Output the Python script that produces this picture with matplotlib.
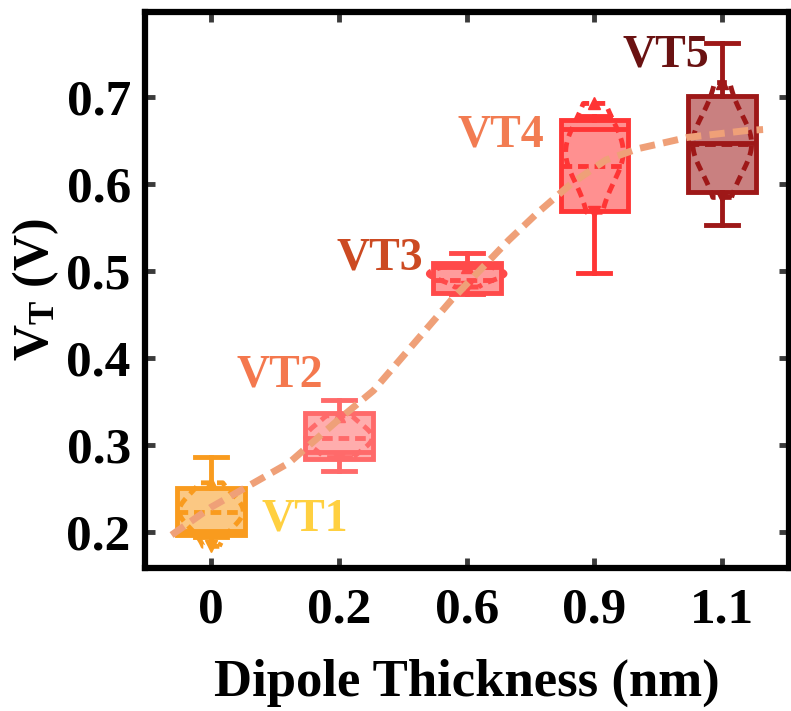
import numpy as np
import matplotlib
matplotlib.use("Agg")
import matplotlib.pyplot as plt
from matplotlib.colors import to_rgba

plt.rcParams['font.family'] = ['Liberation Serif', 'DejaVu Serif']
plt.rcParams['font.weight'] = 'bold'
plt.rcParams['mathtext.fontset'] = 'custom'
plt.rcParams['mathtext.rm'] = 'Liberation Serif:bold'
plt.rcParams['mathtext.bf'] = 'Liberation Serif:bold'
plt.rcParams['mathtext.it'] = 'Liberation Serif:bold'

# categories
thickness = ["0", "0.2", "0.6", "0.9", "1.1"]
names = ["VT1", "VT2", "VT3", "VT4", "VT5"]

# box statistics (V)
whislo = [0.195, 0.271, 0.474, 0.498, 0.553]
q1 = [0.197, 0.284, 0.475, 0.569, 0.591]
med = [0.202, 0.292, 0.505, 0.664, 0.647]
mean = [0.224, 0.308, 0.490, 0.621, 0.646]
q3 = [0.251, 0.337, 0.510, 0.674, 0.702]
whishi = [0.287, 0.352, 0.521, 0.679, 0.762]

# samples for the violin outlines
vt1 = [0.184, 0.212, 0.218, 0.222, 0.224, 0.226, 0.230, 0.236, 0.257]
vt2 = [0.286, 0.300, 0.305, 0.308, 0.310, 0.314, 0.320, 0.334]
vt3 = [0.482, 0.492, 0.495, 0.497, 0.498, 0.500, 0.505]
vt4 = [0.568, 0.612, 0.625, 0.632, 0.636, 0.640, 0.648, 0.660, 0.693]
vt5 = [0.585, 0.628, 0.638, 0.644, 0.647, 0.650, 0.656, 0.668, 0.717]
samples = [vt1, vt2, vt3, vt4, vt5]

# dashed guide curve
trend_x = [-0.31, 0.0, 0.61, 1.0, 1.27, 1.88, 2.33, 2.56, 2.82, 3.09, 3.34, 3.73, 4.20, 4.32]
trend_y = [0.197, 0.229, 0.280, 0.330, 0.363, 0.467, 0.536, 0.568, 0.601, 0.628, 0.641, 0.654, 0.662, 0.663]

box_colors = ["#F99B1E", "#FF6A6A", "#FF4A4A", "#FF3535", "#9E1818"]
text_colors = ["#FFD040", "#F4784E", "#CC4A22", "#F27C52", "#6A1212"]
label_x = [0.73, 0.54, 1.32, 2.27, 3.56]
label_y = [0.215, 0.380, 0.515, 0.656, 0.748]

fig = plt.figure(figsize=(7.91, 7.11), dpi=100)
ax = fig.add_axes([0.183, 0.201, 0.814, 0.782])

pos = np.arange(len(thickness))
stats = []
for i in range(len(thickness)):
    stats.append({"whislo": whislo[i], "q1": q1[i], "med": med[i], "mean": mean[i],
                  "q3": q3[i], "whishi": whishi[i], "fliers": []})

bp = ax.bxp(stats, positions=pos, widths=0.53, patch_artist=True, showmeans=True,
            meanline=True, capwidths=0.25, zorder=2)
for i, c in enumerate(box_colors):
    bp["boxes"][i].set_facecolor(to_rgba(c, 0.55))
    bp["boxes"][i].set_edgecolor(c)
    bp["boxes"][i].set_linewidth(3.5)
    bp["medians"][i].set_color(c)
    bp["medians"][i].set_linewidth(3.5)
    bp["means"][i].set_color(c)
    bp["means"][i].set_linewidth(3.5)
    bp["means"][i].set_linestyle((0, (2.2, 1.2)))
    for art in bp["whiskers"][2 * i:2 * i + 2] + bp["caps"][2 * i:2 * i + 2]:
        art.set_color(c)
        art.set_linewidth(3.5)

vp = ax.violinplot(samples, positions=pos, widths=[0.5, 0.52, 0.6, 0.45, 0.46],
                   showextrema=False, bw_method=0.9)
for i, body in enumerate(vp["bodies"]):
    body.set_facecolor("none")
    body.set_edgecolor(box_colors[i])
    body.set_alpha(1)
    body.set_linewidth(3.5)
    body.set_linestyle((0, (2.0, 1.3)))
    body.set_zorder(3)
    ax.plot(pos[i], max(samples[i]), marker="^", ms=9, color=box_colors[i], zorder=3)
    ax.plot(pos[i], min(samples[i]), marker="v", ms=9, color=box_colors[i], zorder=3)

ax.plot(trend_x, trend_y, color="#EFA078", lw=5, dashes=(2.2, 1.2), zorder=4)

for i in range(len(names)):
    ax.text(label_x[i], label_y[i], names[i], color=text_colors[i], fontsize=33,
            fontweight="bold", ha="center", va="center", zorder=5)

ax.set_xlim(-0.52, 4.52)
ax.set_ylim(0.159, 0.798)
ax.set_xticks(pos)
ax.set_xticklabels(thickness)
ax.set_yticks([0.2, 0.3, 0.4, 0.5, 0.6, 0.7])
ax.set_yticklabels(["0.2", "0.3", "0.4", "0.5", "0.6", "0.7"])
ax.tick_params(direction="in", length=7, width=3.5, color="#3a3a3a", labelsize=37,
               top=True, right=True)
ax.tick_params(axis="x", pad=14)
ax.tick_params(axis="y", pad=10)
for s in ax.spines.values():
    s.set_linewidth(4.5)
ax.set_xlabel("Dipole Thickness (nm)", fontsize=38, fontweight="bold", labelpad=18)
ax.set_ylabel(r"$\mathbf{V_T}$ (V)", fontsize=36, fontweight="bold", labelpad=4)

fig.savefig("out.png", dpi=100)
